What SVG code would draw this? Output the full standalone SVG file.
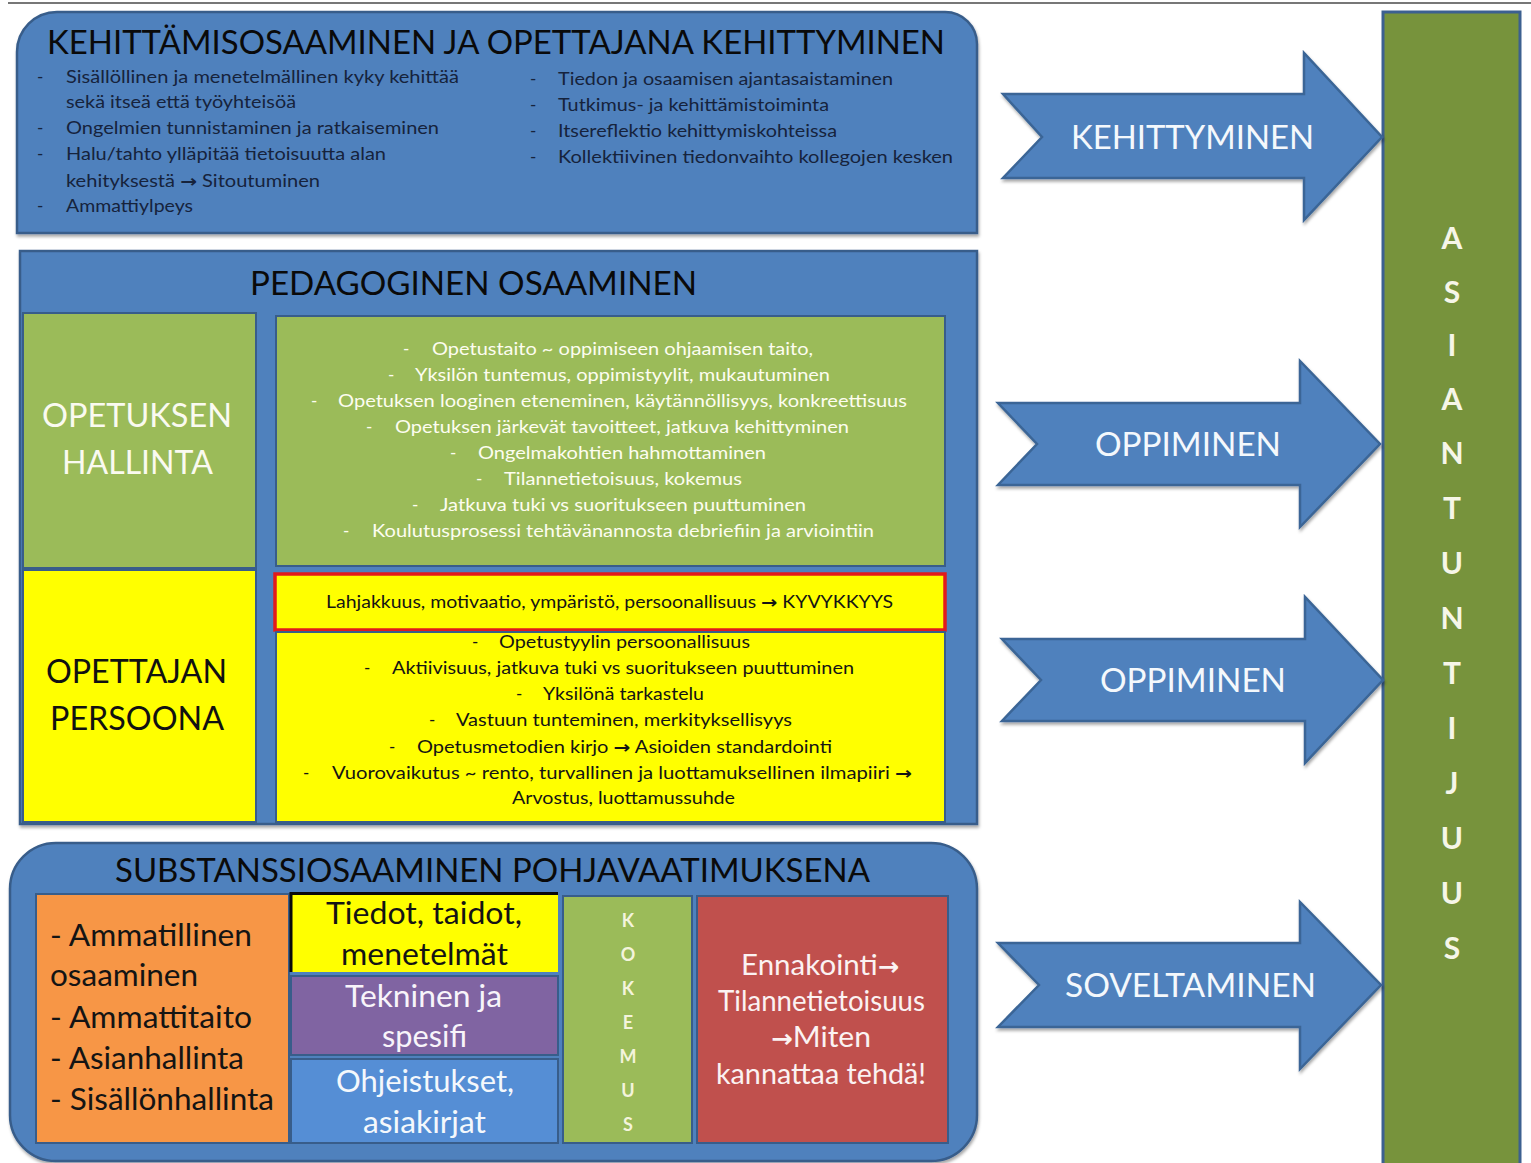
<svg xmlns="http://www.w3.org/2000/svg" width="1531" height="1163" viewBox="0 0 1531 1163">
  <defs>
    <filter id="shadow" x="-5%" y="-5%" width="110%" height="115%">
      <feDropShadow dx="1" dy="2.5" stdDeviation="1.5" flood-color="#000" flood-opacity="0.35"/>
    </filter>
  </defs>
  <style>
    text { font-family: Lato, "Open Sans", "Liberation Sans", sans-serif; }
    .ar { font-family: "DejaVu Sans", sans-serif; font-weight: 700; }
    .arb { font-family: "DejaVu Sans", sans-serif; font-weight: 700; font-size: 25px; }
    .panel { fill: #4F81BD; stroke: #385D8A; stroke-width: 2.5; }
    .cell { stroke: #385D8A; stroke-width: 2; }
    .arrow { fill: #4F81BD; stroke: #3A6596; stroke-width: 2.5; stroke-linejoin: miter; }
    .title { font-size: 33px; fill: #0A0A0A; }
    .list { font-size: 17px; fill: #16233C; }
    .lg { font-size: 17px; fill: #FDFDF0; }
    .ly { font-size: 17px; fill: #141414; }
    .big { font-size: 32px; }
    .arrtxt { font-size: 32px; fill: #F4F8FC; }
    .col { font-size: 30px; font-weight: 700; fill: #F6F6E8; text-anchor: middle; }
    .sub { font-size: 30px; }
    .red { font-size: 29px; }
    .kok { font-size: 18px; font-weight: 700; fill: #F4F4DC; text-anchor: middle; }
  </style>

  <!-- page rule -->
  <line x1="8" y1="3" x2="1531" y2="3" stroke="#4A4A4A" stroke-width="1.5"/>

  <!-- KEHITTÄMISOSAAMINEN panel -->
  <g id="kehittamisosaaminen">
    <path class="panel" filter="url(#shadow)" d="M17,233 V52 A40,40 0 0 1 57,12 H945 A32,32 0 0 1 977,44 V233 Z"/>
    <text class="title" x="47" y="54" textLength="898" lengthAdjust="spacingAndGlyphs">KEHITTÄMISOSAAMINEN JA OPETTAJANA KEHITTYMINEN</text>
    <g class="list">
      <text x="37" y="83">-</text>
      <text x="66" y="83" textLength="393" lengthAdjust="spacingAndGlyphs">Sisällöllinen ja menetelmällinen kyky kehittää</text>
      <text x="66" y="108" textLength="230" lengthAdjust="spacingAndGlyphs">sekä itseä että työyhteisöä</text>
      <text x="37" y="134">-</text>
      <text x="66" y="134" textLength="373" lengthAdjust="spacingAndGlyphs">Ongelmien tunnistaminen ja ratkaiseminen</text>
      <text x="37" y="160">-</text>
      <text x="66" y="160" textLength="320" lengthAdjust="spacingAndGlyphs">Halu/tahto ylläpitää tietoisuutta alan</text>
      <text x="66" y="187" textLength="254" lengthAdjust="spacingAndGlyphs">kehityksestä <tspan class="ar">→</tspan> Sitoutuminen</text>
      <text x="37" y="212">-</text>
      <text x="66" y="212" textLength="127" lengthAdjust="spacingAndGlyphs">Ammattiylpeys</text>

      <text x="530" y="85">-</text>
      <text x="558" y="85" textLength="335" lengthAdjust="spacingAndGlyphs">Tiedon ja osaamisen ajantasaistaminen</text>
      <text x="530" y="111">-</text>
      <text x="558" y="111" textLength="271" lengthAdjust="spacingAndGlyphs">Tutkimus- ja kehittämistoiminta</text>
      <text x="530" y="137">-</text>
      <text x="558" y="137" textLength="279" lengthAdjust="spacingAndGlyphs">Itsereflektio kehittymiskohteissa</text>
      <text x="530" y="163">-</text>
      <text x="558" y="163" textLength="395" lengthAdjust="spacingAndGlyphs">Kollektiivinen tiedonvaihto kollegojen kesken</text>
    </g>
  </g>

  <!-- PEDAGOGINEN OSAAMINEN panel -->
  <g id="pedagoginen">
    <rect class="panel" filter="url(#shadow)" x="20" y="251" width="957" height="573"/>
    <text class="title" x="250" y="295" textLength="447" lengthAdjust="spacingAndGlyphs">PEDAGOGINEN OSAAMINEN</text>
  </g>

  <g id="opetuksen-hallinta">
    <rect class="cell" x="23" y="313" width="233" height="255" fill="#9BBB59"/>
    <text class="big" x="42" y="427" fill="#FAFAF0" textLength="190" lengthAdjust="spacingAndGlyphs">OPETUKSEN</text>
    <text class="big" x="62" y="474" fill="#FAFAF0" textLength="151" lengthAdjust="spacingAndGlyphs">HALLINTA</text>
  </g>

  <g id="opettajan-persoona">
    <rect class="cell" x="23" y="570" width="233" height="252" fill="#FFFF00"/>
    <text class="big" x="46" y="683" fill="#111" textLength="181" lengthAdjust="spacingAndGlyphs">OPETTAJAN</text>
    <text class="big" x="50" y="730" fill="#111" textLength="174" lengthAdjust="spacingAndGlyphs">PERSOONA</text>
  </g>

  <g id="opetustaito">
    <rect class="cell" x="276" y="316" width="669" height="250" fill="#9BBB59"/>
    <g class="lg">
      <text x="403" y="355">-</text>
      <text x="432" y="355" textLength="381" lengthAdjust="spacingAndGlyphs">Opetustaito ~ oppimiseen ohjaamisen taito,</text>
      <text x="388" y="381">-</text>
      <text x="415" y="381" textLength="415" lengthAdjust="spacingAndGlyphs">Yksilön tuntemus, oppimistyylit, mukautuminen</text>
      <text x="311" y="407">-</text>
      <text x="338" y="407" textLength="569" lengthAdjust="spacingAndGlyphs">Opetuksen looginen eteneminen, käytännöllisyys, konkreettisuus</text>
      <text x="366" y="433">-</text>
      <text x="395" y="433" textLength="454" lengthAdjust="spacingAndGlyphs">Opetuksen järkevät tavoitteet, jatkuva kehittyminen</text>
      <text x="450" y="459">-</text>
      <text x="478" y="459" textLength="288" lengthAdjust="spacingAndGlyphs">Ongelmakohtien hahmottaminen</text>
      <text x="476" y="485">-</text>
      <text x="504" y="485" textLength="238" lengthAdjust="spacingAndGlyphs">Tilannetietoisuus, kokemus</text>
      <text x="412" y="511">-</text>
      <text x="440" y="511" textLength="366" lengthAdjust="spacingAndGlyphs">Jatkuva tuki vs suoritukseen puuttuminen</text>
      <text x="343" y="537">-</text>
      <text x="372" y="537" textLength="502" lengthAdjust="spacingAndGlyphs">Koulutusprosessi tehtävänannosta debriefiin ja arviointiin</text>
    </g>
  </g>

  <g id="kyvykkyys">
    <rect x="275" y="574" width="670" height="56" fill="#FFFF00" stroke="#E21B1B" stroke-width="3.5"/>
    <text class="ly" x="326" y="608" textLength="567" lengthAdjust="spacingAndGlyphs">Lahjakkuus, motivaatio, ympäristö, persoonallisuus <tspan class="ar">→</tspan> KYVYKKYYS</text>
  </g>

  <g id="opetustyyli">
    <rect class="cell" x="276" y="632" width="669" height="190" fill="#FFFF00"/>
    <g class="ly">
      <text x="472" y="648">-</text>
      <text x="499" y="648" textLength="251" lengthAdjust="spacingAndGlyphs">Opetustyylin persoonallisuus</text>
      <text x="364" y="674">-</text>
      <text x="392" y="674" textLength="462" lengthAdjust="spacingAndGlyphs">Aktiivisuus, jatkuva tuki vs suoritukseen puuttuminen</text>
      <text x="516" y="700">-</text>
      <text x="543" y="700" textLength="161" lengthAdjust="spacingAndGlyphs">Yksilönä tarkastelu</text>
      <text x="429" y="726">-</text>
      <text x="456" y="726" textLength="336" lengthAdjust="spacingAndGlyphs">Vastuun tunteminen, merkityksellisyys</text>
      <text x="389" y="753">-</text>
      <text x="417" y="753" textLength="415" lengthAdjust="spacingAndGlyphs">Opetusmetodien kirjo <tspan class="ar">→</tspan> Asioiden standardointi</text>
      <text x="303" y="779">-</text>
      <text x="332" y="779" textLength="580" lengthAdjust="spacingAndGlyphs">Vuorovaikutus ~ rento, turvallinen ja luottamuksellinen ilmapiiri <tspan class="ar">→</tspan></text>
      <text x="512" y="804" textLength="223" lengthAdjust="spacingAndGlyphs">Arvostus, luottamussuhde</text>
    </g>
  </g>

  <!-- SUBSTANSSIOSAAMINEN panel -->
  <g id="substanssiosaaminen">
    <rect class="panel" filter="url(#shadow)" x="10" y="843" width="967" height="318" rx="46" ry="46"/>
    <text class="title" x="115" y="882" textLength="755" lengthAdjust="spacingAndGlyphs">SUBSTANSSIOSAAMINEN POHJAVAATIMUKSENA</text>
  </g>

  <g id="ammatillinen">
    <rect class="cell" x="36" y="894" width="253" height="249" fill="#F79646"/>
    <g class="sub" fill="#141414">
      <text x="50" y="946" textLength="202" lengthAdjust="spacingAndGlyphs">- Ammatillinen</text>
      <text x="50" y="986" textLength="148" lengthAdjust="spacingAndGlyphs">osaaminen</text>
      <text x="50" y="1028" textLength="202" lengthAdjust="spacingAndGlyphs">- Ammattitaito</text>
      <text x="50" y="1069" textLength="194" lengthAdjust="spacingAndGlyphs">- Asianhallinta</text>
      <text x="50" y="1110" textLength="224" lengthAdjust="spacingAndGlyphs">- Sisällönhallinta</text>
    </g>
  </g>

  <g id="tiedot">
    <rect x="291" y="894" width="267" height="78" fill="#FFFF00"/>
    <path d="M291,972 V893.5 H558" fill="none" stroke="#0A0A0A" stroke-width="3"/>
    <text class="sub" x="326" y="924" fill="#141414" textLength="196" lengthAdjust="spacingAndGlyphs">Tiedot, taidot,</text>
    <text class="sub" x="341" y="965" fill="#141414" textLength="167" lengthAdjust="spacingAndGlyphs">menetelmät</text>
  </g>

  <g id="tekninen">
    <rect class="cell" x="291" y="976" width="267" height="79" fill="#8064A2"/>
    <text class="sub" x="345" y="1007" fill="#F8F4FA" textLength="157" lengthAdjust="spacingAndGlyphs">Tekninen ja</text>
    <text class="sub" x="382" y="1047" fill="#F8F4FA" textLength="85" lengthAdjust="spacingAndGlyphs">spesifi</text>
  </g>

  <g id="ohjeistukset">
    <rect class="cell" x="291" y="1059" width="267" height="84" fill="#558ED5"/>
    <text class="sub" x="336" y="1092" fill="#F4F8FC" textLength="178" lengthAdjust="spacingAndGlyphs">Ohjeistukset,</text>
    <text class="sub" x="363" y="1133" fill="#F4F8FC" textLength="123" lengthAdjust="spacingAndGlyphs">asiakirjat</text>
  </g>

  <g id="kokemus">
    <rect class="cell" x="563" y="896" width="129" height="247" fill="#9BBB59"/>
    <text class="kok" x="628" y="927">K</text>
    <text class="kok" x="628" y="961">O</text>
    <text class="kok" x="628" y="995">K</text>
    <text class="kok" x="628" y="1029">E</text>
    <text class="kok" x="628" y="1063">M</text>
    <text class="kok" x="628" y="1097">U</text>
    <text class="kok" x="628" y="1131">S</text>
  </g>

  <g id="ennakointi">
    <rect class="cell" x="697" y="896" width="251" height="247" fill="#C0504D"/>
    <g class="red" fill="#FBF2F2">
      <text x="741" y="975" textLength="158" lengthAdjust="spacingAndGlyphs">Ennakointi<tspan class="arb">→</tspan></text>
      <text x="718" y="1011" textLength="207" lengthAdjust="spacingAndGlyphs">Tilannetietoisuus</text>
      <text x="771" y="1047" textLength="100" lengthAdjust="spacingAndGlyphs"><tspan class="arb">→</tspan>Miten</text>
      <text x="716" y="1084" textLength="210" lengthAdjust="spacingAndGlyphs">kannattaa tehdä!</text>
    </g>
  </g>

  <!-- ASIANTUNTIJUUS column -->
  <g id="asiantuntijuus">
    <rect x="1383" y="12" width="137" height="1162" fill="#77933C" stroke="#3C6090" stroke-width="3"/>
    <text class="col" x="1452" y="249">A</text>
    <text class="col" x="1452" y="303">S</text>
    <text class="col" x="1452" y="356">I</text>
    <text class="col" x="1452" y="410">A</text>
    <text class="col" x="1452" y="464">N</text>
    <text class="col" x="1452" y="519">T</text>
    <text class="col" x="1452" y="574">U</text>
    <text class="col" x="1452" y="629">N</text>
    <text class="col" x="1452" y="684">T</text>
    <text class="col" x="1452" y="739">I</text>
    <text class="col" x="1452" y="794">J</text>
    <text class="col" x="1452" y="849">U</text>
    <text class="col" x="1452" y="904">U</text>
    <text class="col" x="1452" y="959">S</text>
  </g>

  <!-- notched arrows into the column -->
  <g id="connectors">
    <g id="arrow-kehittyminen">
      <polygon class="arrow" filter="url(#shadow)" points="1003,94 1304,94 1304,53 1382,137 1304,220 1304,178 1003,178 1042,137"/>
      <text class="arrtxt" x="1071" y="149" textLength="243" lengthAdjust="spacingAndGlyphs">KEHITTYMINEN</text>
    </g>
    <g id="arrow-oppiminen-1">
      <polygon class="arrow" filter="url(#shadow)" points="998,403 1300,403 1300,361 1380,444 1300,527 1300,485 998,485 1037,444"/>
      <text class="arrtxt" x="1095" y="456" textLength="186" lengthAdjust="spacingAndGlyphs">OPPIMINEN</text>
    </g>
    <g id="arrow-oppiminen-2">
      <polygon class="arrow" filter="url(#shadow)" points="1002,639 1305,639 1305,597 1383,680 1305,763 1305,721 1002,721 1041,680"/>
      <text class="arrtxt" x="1100" y="692" textLength="186" lengthAdjust="spacingAndGlyphs">OPPIMINEN</text>
    </g>
    <g id="arrow-soveltaminen">
      <polygon class="arrow" filter="url(#shadow)" points="998,943 1300,943 1300,902 1381,985 1300,1069 1300,1027 998,1027 1039,985"/>
      <text class="arrtxt" x="1065" y="997" textLength="251" lengthAdjust="spacingAndGlyphs">SOVELTAMINEN</text>
    </g>
  </g>
</svg>
